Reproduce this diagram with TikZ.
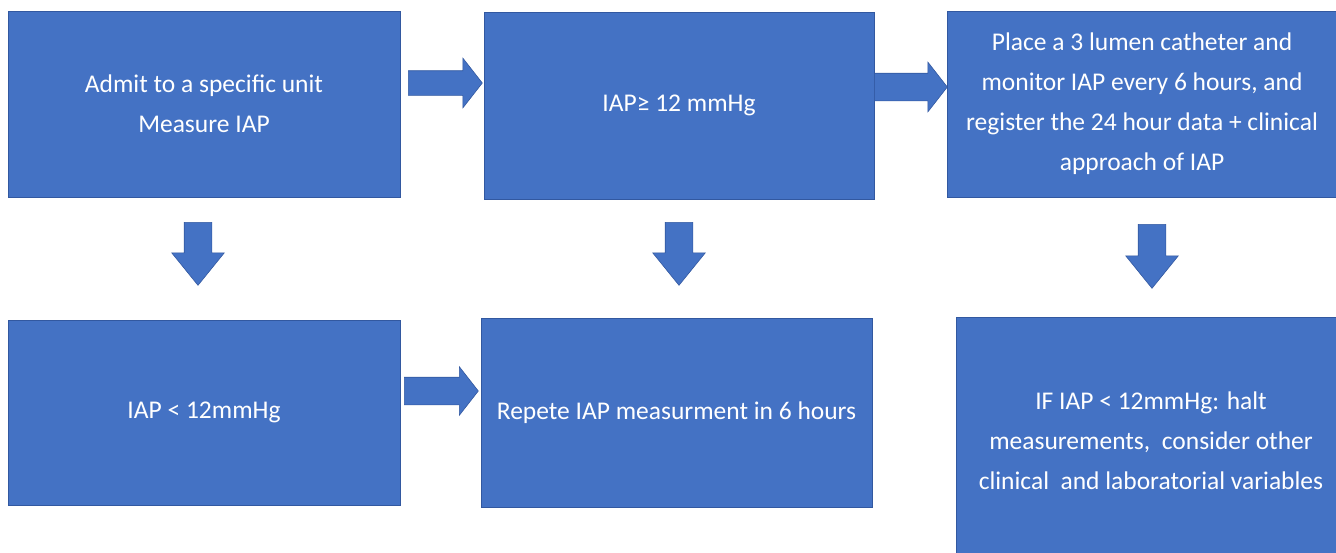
\documentclass[tikz,border=0pt]{standalone}
\usepackage{fontspec}
\setmainfont{Carlito}
\usepackage{tikz}
\usetikzlibrary{shapes.arrows}
\definecolor{boxfill}{RGB}{68,114,196}
\definecolor{boxedge}{RGB}{50,88,160}
\tikzset{
  flowbox/.style={rectangle, fill=boxfill, draw=boxedge, line width=0.6pt, text=white, align=center, inner sep=0pt,
    font=\fontsize{25.5}{40}\selectfont},
  rarrow/.style={single arrow, fill=boxfill, draw=boxedge, line width=0.6pt, inner sep=0pt, text height=#1, text depth=0pt,
    minimum width=49pt, minimum height=74pt, single arrow tip angle=104, anchor=tail},
  darrow/.style={single arrow, fill=boxfill, draw=boxedge, line width=0.6pt, inner sep=0pt, text height=27pt, text depth=0pt,
    single arrow head extend=12.5pt, minimum width=52pt, minimum height=63pt, single arrow tip angle=78, rotate=-90, anchor=tail}
}
\begin{document}
\begin{tikzpicture}[x=1pt, y=-1pt]
\useasboundingbox (0,0) rectangle (1336,552);
% row1
\node[flowbox, minimum width=392pt, minimum height=186pt] (admit) at (204,104) {Admit to a specific unit\\Measure IAP};
\node[flowbox, minimum width=390pt, minimum height=187pt] (high) at (679,105.5) {IAP≥ 12 mmHg};
\node[flowbox, minimum width=390pt, minimum height=186pt] (monitor) at (1142,104) {Place a 3 lumen catheter and\\monitor IAP every 6 hours, and\\register the 24 hour data + clinical\\approach of IAP};
% row2
\node[flowbox, minimum width=392pt, minimum height=185pt] (low) at (204,412.5) {IAP < 12mmHg};
\node[flowbox, minimum width=391pt, minimum height=189pt] (repeat) at (676.5,412.5) {Repete IAP measurment in 6 hours};
\node[flowbox, minimum width=390pt, minimum height=248pt] (halt) at (1151,441) {IF IAP < 12mmHg: halt\\measurements,\ \ consider other\\clinical\ \ and laboratorial variables};
% arrows
\node[rarrow=24pt, single arrow head extend=12.5pt] (ahigh) at (408,83) {};
\node[rarrow=27pt, single arrow head extend=11pt, minimum height=73pt] (amonitor) at (874,87) {};
\node[rarrow=27pt, single arrow head extend=10.5pt, minimum width=48pt] (arepeat) at (404,391) {};
\node[darrow] (alow) at (198,222) {};
\node[darrow] (astay) at (679,222) {};
\node[darrow, minimum height=64pt] (ahalt) at (1152,224) {};
\end{tikzpicture}
\end{document}
